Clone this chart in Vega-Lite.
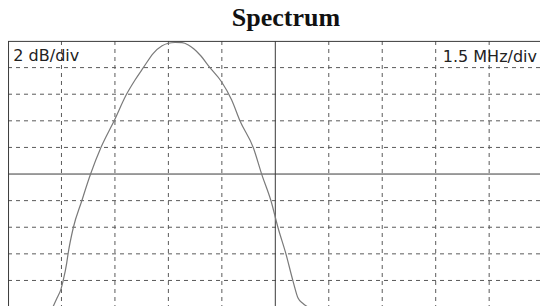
{
  "$schema": "https://vega.github.io/schema/vega-lite/v6.json",
  "width": 532,
  "height": 265,
  "autosize": {"type": "none"},
  "padding": {"left": 8, "top": 41, "right": 0, "bottom": 0},
  "background": "white",
  "config": {"view": {"stroke": null}},
  "title": {"text": "Spectrum", "font": "Liberation Serif", "fontSize": 26, "fontWeight": "bold", "color": "#111", "anchor": "middle", "dx": 12, "offset": 10},
  "datasets": {
    "curve": [
      {"f": 0.814, "p": -0.11},
      {"f": 0.917, "p": 0.338},
      {"f": 0.991, "p": 0.677},
      {"f": 1.034, "p": 1.015},
      {"f": 1.098, "p": 1.654},
      {"f": 1.122, "p": 1.981},
      {"f": 1.221, "p": 2.981},
      {"f": 1.379, "p": 3.985},
      {"f": 1.543, "p": 4.989},
      {"f": 1.740, "p": 6.004},
      {"f": 1.983, "p": 6.992},
      {"f": 2.217, "p": 7.996},
      {"f": 2.376, "p": 8.534},
      {"f": 2.531, "p": 8.996},
      {"f": 2.718, "p": 9.538},
      {"f": 2.875, "p": 9.812},
      {"f": 2.999, "p": 9.914},
      {"f": 3.124, "p": 9.944},
      {"f": 3.255, "p": 9.936},
      {"f": 3.373, "p": 9.85},
      {"f": 3.479, "p": 9.699},
      {"f": 3.592, "p": 9.474},
      {"f": 3.778, "p": 8.996},
      {"f": 3.997, "p": 8.459},
      {"f": 4.184, "p": 7.782},
      {"f": 4.340, "p": 6.992},
      {"f": 4.589, "p": 5.989},
      {"f": 4.746, "p": 4.989},
      {"f": 4.920, "p": 3.985},
      {"f": 5.051, "p": 2.981},
      {"f": 5.201, "p": 1.981},
      {"f": 5.331, "p": 0.977},
      {"f": 5.425, "p": 0.338},
      {"f": 5.518, "p": 0.132},
      {"f": 5.612, "p": 0.0},
      {"f": 5.686, "p": -0.075}
    ],
    "vDash": [{"g": 1}, {"g": 2}, {"g": 3}, {"g": 4}, {"g": 6}, {"g": 7}, {"g": 8}, {"g": 9}],
    "hDash": [{"g": 1}, {"g": 2}, {"g": 3}, {"g": 4}, {"g": 6}, {"g": 7}, {"g": 8}, {"g": 9}],
    "vSolid": [{"g": 0.01}, {"g": 5}],
    "hSolid": [{"g": 5}, {"g": 9.985}],
    "leftLabel": [{"label": "2 dB/div", "f": 0.1, "p": 9.25}],
    "rightLabel": [{"label": "1.5 MHz/div", "f": 9.895, "p": 9.2}]
  },
  "layer": [
    {
      "data": {"name": "vDash"},
      "mark": {"type": "rule", "color": "#5a5a5a", "strokeWidth": 1, "strokeDash": [4, 4]},
      "encoding": {
        "x": {"field": "g", "type": "quantitative", "scale": {"domain": [0, 9.951], "nice": false, "zero": false}, "axis": null}
      }
    },
    {
      "data": {"name": "hDash"},
      "mark": {"type": "rule", "color": "#5a5a5a", "strokeWidth": 1, "strokeDash": [4, 4]},
      "encoding": {
        "y": {"field": "g", "type": "quantitative", "scale": {"domain": [0.04, 10], "nice": false, "zero": false}, "axis": null}
      }
    },
    {
      "data": {"name": "vSolid"},
      "mark": {"type": "rule", "color": "#3a3a3a", "strokeWidth": 1},
      "encoding": {
        "x": {"field": "g", "type": "quantitative", "axis": null}
      }
    },
    {
      "data": {"name": "hSolid"},
      "mark": {"type": "rule", "color": "#3a3a3a", "strokeWidth": 1},
      "encoding": {
        "y": {"field": "g", "type": "quantitative", "axis": null}
      }
    },
    {
      "data": {"name": "curve"},
      "mark": {"type": "line", "color": "#7a7a7a", "strokeWidth": 1.2, "interpolate": "monotone", "clip": true},
      "encoding": {
        "x": {"field": "f", "type": "quantitative", "axis": null},
        "y": {"field": "p", "type": "quantitative", "axis": null}
      }
    },
    {
      "data": {"name": "leftLabel"},
      "mark": {"type": "text", "align": "left", "baseline": "alphabetic", "font": "DejaVu Sans", "fontSize": 16, "color": "#222"},
      "encoding": {
        "x": {"field": "f", "type": "quantitative", "axis": null},
        "y": {"field": "p", "type": "quantitative", "axis": null},
        "text": {"field": "label"}
      }
    },
    {
      "data": {"name": "rightLabel"},
      "mark": {"type": "text", "align": "right", "baseline": "alphabetic", "font": "DejaVu Sans", "fontSize": 16, "color": "#222"},
      "encoding": {
        "x": {"field": "f", "type": "quantitative", "axis": null},
        "y": {"field": "p", "type": "quantitative", "axis": null},
        "text": {"field": "label"}
      }
    }
  ]
}
